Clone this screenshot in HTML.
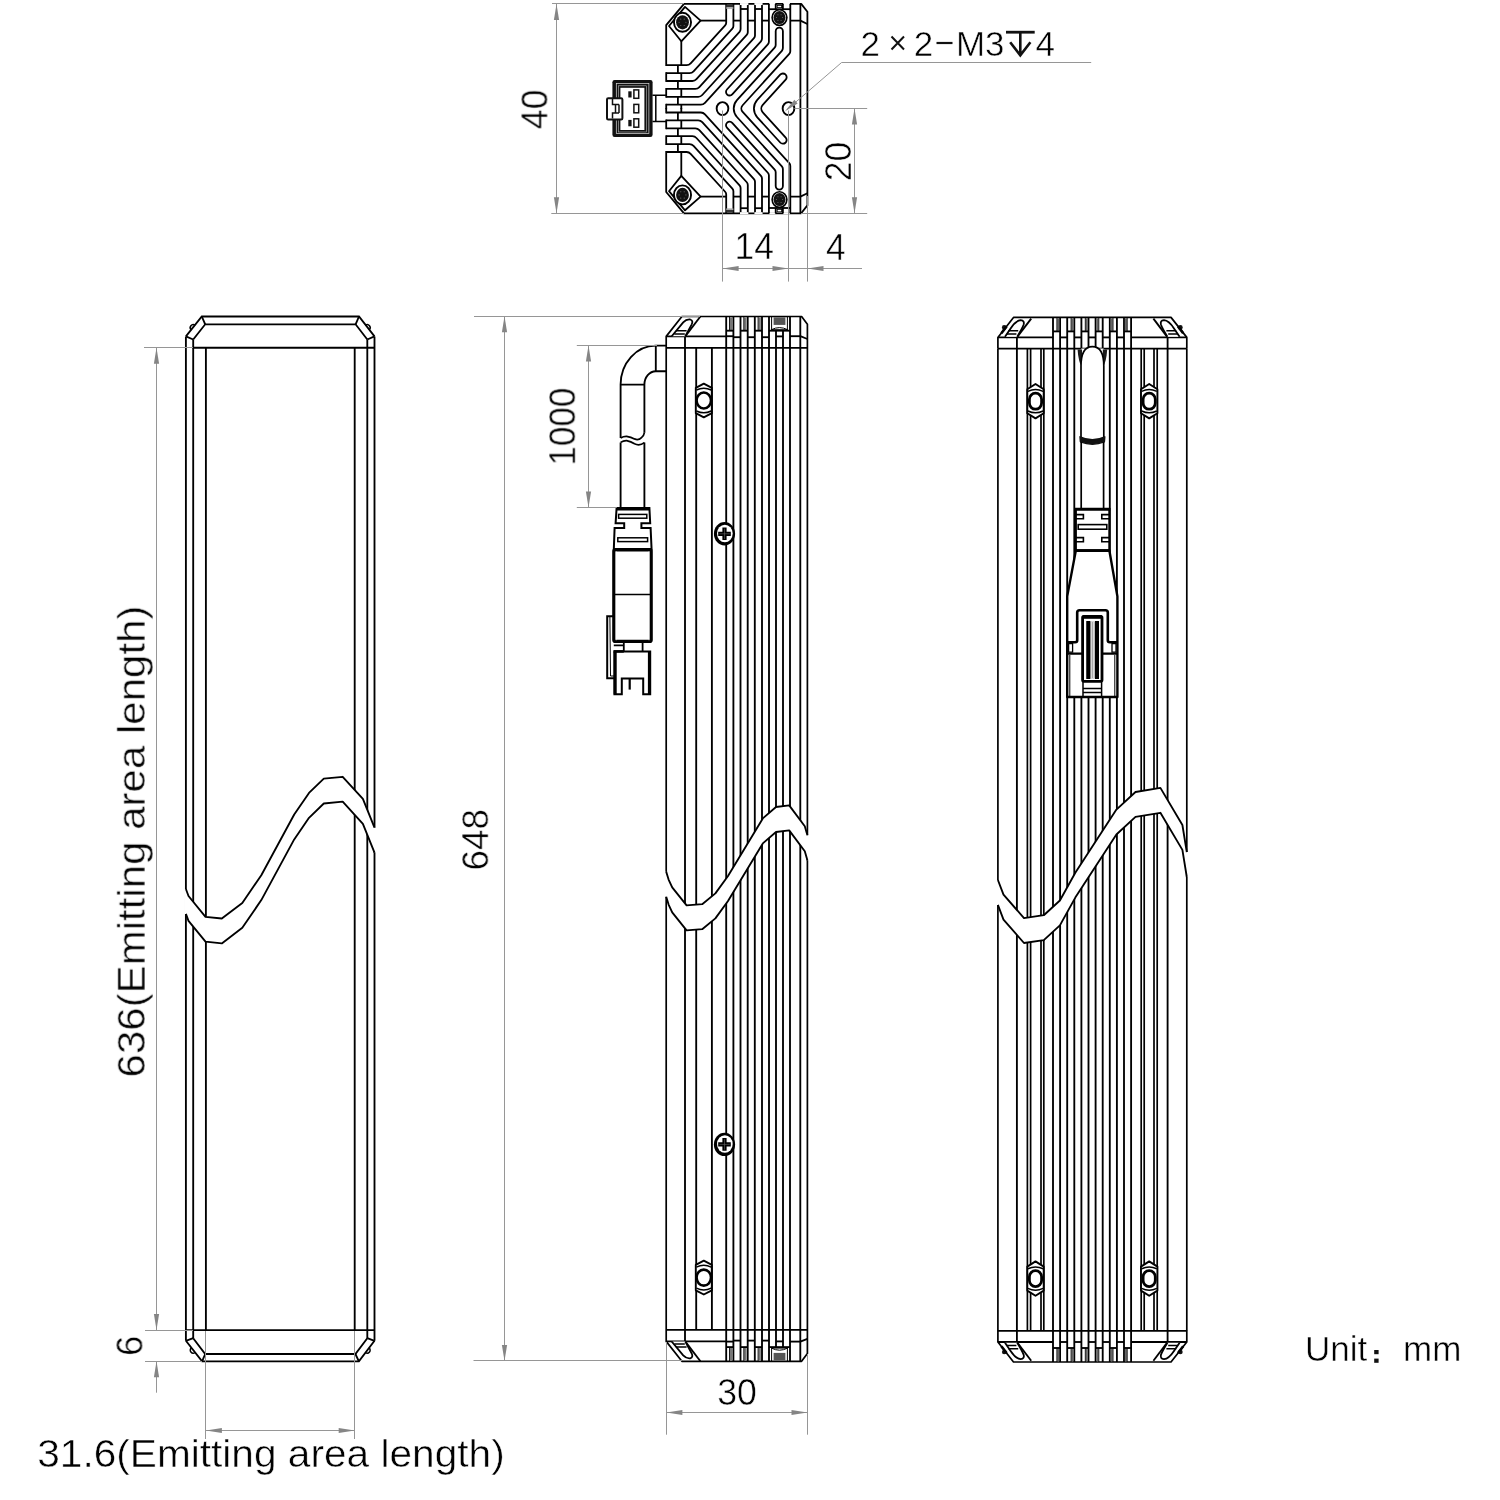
<!DOCTYPE html>
<html><head><meta charset="utf-8"><title>Dimension drawing</title>
<style>
html,body{margin:0;padding:0;background:#fff;}
body{width:1500px;height:1500px;overflow:hidden;font-family:"Liberation Sans",sans-serif;}
svg{display:block;}
text{font-family:"Liberation Sans",sans-serif;fill:#000;stroke:#fff;stroke-width:0.5px;}
</style></head><body>
<svg width="1500" height="1500" viewBox="0 0 1500 1500" stroke-linecap="butt">
<rect width="1500" height="1500" fill="#fff"/>
<g id="left">
<path d="M185.9,336.4 L185.9,1340.8" stroke="#000" stroke-width="1.85" fill="none"/>
<path d="M193.2,339.5 L193.2,1338.2" stroke="#000" stroke-width="1.85" fill="none"/>
<path d="M205.9,347.7 L205.9,1330.1" stroke="#000" stroke-width="1.85" fill="none"/>
<path d="M354.7,347.7 L354.7,1330.1" stroke="#000" stroke-width="1.85" fill="none"/>
<path d="M367.3,339.5 L367.3,1338.2" stroke="#000" stroke-width="1.85" fill="none"/>
<path d="M374.5,336.4 L374.5,1340.8" stroke="#000" stroke-width="1.85" fill="none"/>
<path d="M185.9,336.4 L201.8,316.5 L359,316.5 L374.5,336.4" fill="none" stroke="#000" stroke-width="1.85" />
<path d="M193.2,339.5 L205.2,324.3 L355.6,324.3 L367.3,339.5" fill="none" stroke="#000" stroke-width="1.85" />
<path d="M185.9,336.4 L193.2,339.5" stroke="#000" stroke-width="1.85" fill="none"/>
<path d="M374.5,336.4 L367.3,339.5" stroke="#000" stroke-width="1.85" fill="none"/>
<path d="M201.8,316.5 L205.2,324.3" stroke="#000" stroke-width="1.85" fill="none"/>
<path d="M359,316.5 L355.6,324.3" stroke="#000" stroke-width="1.85" fill="none"/>
<path d="M192.4,347.7 L374.5,347.7" stroke="#000" stroke-width="1.85" fill="none"/>
<path d="M191.4,1347.8 A2.9,2.9 0 0 0 195.1,1352.5" fill="none" stroke="#000" stroke-width="1.5"/>
<path d="M191.4,330 A2.9,2.9 0 0 1 195.1,325.3" fill="none" stroke="#000" stroke-width="1.5"/>
<path d="M369,1347.8 A2.9,2.9 0 0 1 365.3,1352.5" fill="none" stroke="#000" stroke-width="1.5"/>
<path d="M369,330 A2.9,2.9 0 0 0 365.3,325.3" fill="none" stroke="#000" stroke-width="1.5"/>
<path d="M185.9,1340.8 L202.1,1361.3 L358.9,1361.3 L374.5,1340.8" fill="none" stroke="#000" stroke-width="1.85" />
<path d="M193.2,1338.2 L205.2,1354 L355.4,1354 L367.3,1338.2" fill="none" stroke="#000" stroke-width="1.85" />
<path d="M185.9,1340.8 L193.2,1338.2" stroke="#000" stroke-width="1.85" fill="none"/>
<path d="M374.5,1340.8 L367.3,1338.2" stroke="#000" stroke-width="1.85" fill="none"/>
<path d="M202.1,1361.3 L205.2,1354" stroke="#000" stroke-width="1.85" fill="none"/>
<path d="M358.9,1361.3 L355.4,1354" stroke="#000" stroke-width="1.85" fill="none"/>
<path d="M185.9,1330.1 L374.5,1330.1" stroke="#000" stroke-width="1.85" fill="none"/>
<rect x="180" y="800" width="12" height="50" fill="#fff" opacity="0"/>
<path d="M184.3,889 L185.9,889 L188.5,896 L205.5,916.8 L221.8,918.5 L242.3,902.9 L261.3,875.2 L294.2,814.5 L309,792.9 L323.8,778.6 L342.7,776.8 L362.9,798.9 L374.5,827.7 L376.1,827.7 L376.1,852.6 L374.5,852.6 L362.9,823.8 L342.7,801.7 L323.8,803.5 L309,817.8 L294.2,839.4 L261.3,900.1 L242.3,927.8 L221.8,943.4 L205.5,941.7 L188.5,920.9 L185.9,913.9 L184.3,913.9 Z" fill="#fff" stroke="none"/>
<path d="M185.9,889 L188.5,896 L205.5,916.8 L221.8,918.5 L242.3,902.9 L261.3,875.2 L294.2,814.5 L309,792.9 L323.8,778.6 L342.7,776.8 L362.9,798.9 L374.5,827.7" fill="none" stroke="#000" stroke-width="1.85" stroke-linejoin="round"/>
<path d="M185.9,913.9 L188.5,920.9 L205.5,941.7 L221.8,943.4 L242.3,927.8 L261.3,900.1 L294.2,839.4 L309,817.8 L323.8,803.5 L342.7,801.7 L362.9,823.8 L374.5,852.6" fill="none" stroke="#000" stroke-width="1.85" stroke-linejoin="round"/>
</g>
<g id="topview">
<g><path d="M666.2,66.1 L666.2,25.2 L684,3.9 L801.2,3.9 L807.4,11.8 L807.4,109.1" fill="none" stroke="#000" stroke-width="1.8" stroke-linejoin="round"/>
<path d="M800.4,3.9 L800.4,109.1" fill="none" stroke="#000" stroke-width="1.8" stroke-linejoin="round"/>
<path d="M790.3,20.6 L800.4,20.6 L807.4,24" fill="none" stroke="#000" stroke-width="1.8" stroke-linejoin="round"/>
<path d="M685,6.9 L700.6,20.6 L681.3,41.3 L669,26 Z" fill="none" stroke="#000" stroke-width="1.8" stroke-linejoin="round"/>
<path d="M700.5,20.6 L726.2,20.6" fill="none" stroke="#000" stroke-width="1.8" stroke-linejoin="round"/>
<path d="M681.3,41.1 L681.3,65.2" fill="none" stroke="#000" stroke-width="1.8" stroke-linejoin="round"/>
<ellipse cx="682.5" cy="22.3" rx="8.55" ry="9.5" fill="#fff" stroke="#000" stroke-width="1.9"/>
<ellipse cx="682.5" cy="22.3" rx="6.4" ry="7.1" fill="#111"/>
<circle cx="685.9" cy="22.3" r="0.55" fill="#777"/>
<circle cx="684.2" cy="25.5" r="0.55" fill="#777"/>
<circle cx="680.8" cy="25.5" r="0.55" fill="#777"/>
<circle cx="679.1" cy="22.3" r="0.55" fill="#777"/>
<circle cx="680.8" cy="19.1" r="0.55" fill="#777"/>
<circle cx="684.2" cy="19.1" r="0.55" fill="#777"/>
<path d="M666.2,65.2 L686.59,65.2 A5.5,5.5 0 0 0 690.65,63.4 L725.16,25.44 A4,4 0 0 0 726.2,22.75 L726.2,3.9" fill="none" stroke="#000" stroke-width="1.8" stroke-linejoin="round"/>
<path d="M666.2,73.1 L689.49,73.1 A5.5,5.5 0 0 0 693.55,71.3 L732.36,28.61 A4,4 0 0 0 733.4,25.92 L733.4,3.9" fill="none" stroke="#000" stroke-width="1.8" stroke-linejoin="round"/>
<path d="M666.2,81 L692.39,81 A5.5,5.5 0 0 0 696.45,79.2 L739.56,31.78 A4,4 0 0 0 740.6,29.09 L740.6,3.9" fill="none" stroke="#000" stroke-width="1.8" stroke-linejoin="round"/>
<path d="M666.2,88.9 L695.29,88.9 A5.5,5.5 0 0 0 699.35,87.1 L746.76,34.95 A4,4 0 0 0 747.8,32.26 L747.8,3.9" fill="none" stroke="#000" stroke-width="1.8" stroke-linejoin="round"/>
<path d="M666.2,96.8 L698.19,96.8 A5.5,5.5 0 0 0 702.25,95 L753.96,38.12 A4,4 0 0 0 755,35.43 L755,3.9" fill="none" stroke="#000" stroke-width="1.8" stroke-linejoin="round"/>
<path d="M666.2,104.7 L700.89,104.7 A5.5,5.5 0 0 0 704.95,102.9 L760.96,41.29 A4,4 0 0 0 762,38.6 L762,3.9" fill="none" stroke="#000" stroke-width="1.8" stroke-linejoin="round"/>
<path d="M733.4,20.6 L740.6,20.6" fill="none" stroke="#000" stroke-width="1.8" stroke-linejoin="round"/>
<path d="M747.8,20.6 L755,20.6" fill="none" stroke="#000" stroke-width="1.8" stroke-linejoin="round"/>
<path d="M762,20.6 L768.9,20.6" fill="none" stroke="#000" stroke-width="1.8" stroke-linejoin="round"/>
<path d="M740.6,9 L747.8,9" fill="none" stroke="#000" stroke-width="1.8" stroke-linejoin="round"/>
<rect x="740" y="3.05" width="8.4" height="2" fill="#fff"/>
<path d="M755,9 L762,9" fill="none" stroke="#000" stroke-width="1.8" stroke-linejoin="round"/>
<rect x="754.4" y="3.05" width="8.2" height="2" fill="#fff"/>
<path d="M768.9,9.2 L790.3,9.2" fill="none" stroke="#000" stroke-width="1.8" stroke-linejoin="round"/>
<rect x="769.3" y="3" width="6" height="2" fill="#fff"/>
<rect x="783.3" y="3" width="6.6" height="2" fill="#fff"/>
<rect x="726.2" y="4.6" width="7.2" height="2.6" fill="#333"/>
<rect x="726.2" y="7.2" width="7.2" height="1.6" fill="#aaa"/>
<path d="M775.7,3.9 L775.7,9.2" fill="none" stroke="#000" stroke-width="1.8" stroke-linejoin="round"/>
<path d="M782.9,3.9 L782.9,9.2" fill="none" stroke="#000" stroke-width="1.8" stroke-linejoin="round"/>
<rect x="777.2" y="5.4" width="4.4" height="2.2" fill="#fff" stroke="#000" stroke-width="0.8"/>
<ellipse cx="779.5" cy="17.6" rx="7.4" ry="7.8" fill="#fff" stroke="#000" stroke-width="1.6"/>
<ellipse cx="779.5" cy="17.6" rx="6.0" ry="6.5" fill="#111"/>
<circle cx="782.6" cy="17.6" r="0.5" fill="#777"/>
<circle cx="781.05" cy="20.46" r="0.5" fill="#777"/>
<circle cx="777.95" cy="20.46" r="0.5" fill="#777"/>
<circle cx="776.4" cy="17.6" r="0.5" fill="#777"/>
<circle cx="777.95" cy="14.74" r="0.5" fill="#777"/>
<circle cx="781.05" cy="14.74" r="0.5" fill="#777"/>
<path d="M666.2,72.2 L666.2,81.9" fill="none" stroke="#000" stroke-width="1.8" stroke-linejoin="round"/>
<path d="M681.3,73.1 L681.3,81" fill="none" stroke="#000" stroke-width="1.8" stroke-linejoin="round"/>
<path d="M666.2,88 L666.2,97.7" fill="none" stroke="#000" stroke-width="1.8" stroke-linejoin="round"/>
<path d="M681.3,88.9 L681.3,96.8" fill="none" stroke="#000" stroke-width="1.8" stroke-linejoin="round"/>
<path d="M666.2,103.8 L666.2,109.1" fill="none" stroke="#000" stroke-width="1.8" stroke-linejoin="round"/>
<path d="M681.3,104.7 L681.3,109.1" fill="none" stroke="#000" stroke-width="1.8" stroke-linejoin="round"/>
<path d="M677.9,65.2 L677.9,73.1" fill="none" stroke="#000" stroke-width="1.8" stroke-linejoin="round"/>
<path d="M677.9,81 L677.9,88.9" fill="none" stroke="#000" stroke-width="1.8" stroke-linejoin="round"/>
<path d="M677.9,96.8 L677.9,104.7" fill="none" stroke="#000" stroke-width="1.8" stroke-linejoin="round"/></g>
<g transform="translate(0,217.2) scale(1,-1)"><path d="M666.2,66.1 L666.2,25.2 L684,3.9 L801.2,3.9 L807.4,11.8 L807.4,109.1" fill="none" stroke="#000" stroke-width="1.8" stroke-linejoin="round"/>
<path d="M800.4,3.9 L800.4,109.1" fill="none" stroke="#000" stroke-width="1.8" stroke-linejoin="round"/>
<path d="M790.3,20.6 L800.4,20.6 L807.4,24" fill="none" stroke="#000" stroke-width="1.8" stroke-linejoin="round"/>
<path d="M685,6.9 L700.6,20.6 L681.3,41.3 L669,26 Z" fill="none" stroke="#000" stroke-width="1.8" stroke-linejoin="round"/>
<path d="M700.5,20.6 L726.2,20.6" fill="none" stroke="#000" stroke-width="1.8" stroke-linejoin="round"/>
<path d="M681.3,41.1 L681.3,65.2" fill="none" stroke="#000" stroke-width="1.8" stroke-linejoin="round"/>
<ellipse cx="682.5" cy="22.3" rx="8.55" ry="9.5" fill="#fff" stroke="#000" stroke-width="1.9"/>
<ellipse cx="682.5" cy="22.3" rx="6.4" ry="7.1" fill="#111"/>
<circle cx="685.9" cy="22.3" r="0.55" fill="#777"/>
<circle cx="684.2" cy="25.5" r="0.55" fill="#777"/>
<circle cx="680.8" cy="25.5" r="0.55" fill="#777"/>
<circle cx="679.1" cy="22.3" r="0.55" fill="#777"/>
<circle cx="680.8" cy="19.1" r="0.55" fill="#777"/>
<circle cx="684.2" cy="19.1" r="0.55" fill="#777"/>
<path d="M666.2,65.2 L686.59,65.2 A5.5,5.5 0 0 0 690.65,63.4 L725.16,25.44 A4,4 0 0 0 726.2,22.75 L726.2,3.9" fill="none" stroke="#000" stroke-width="1.8" stroke-linejoin="round"/>
<path d="M666.2,73.1 L689.49,73.1 A5.5,5.5 0 0 0 693.55,71.3 L732.36,28.61 A4,4 0 0 0 733.4,25.92 L733.4,3.9" fill="none" stroke="#000" stroke-width="1.8" stroke-linejoin="round"/>
<path d="M666.2,81 L692.39,81 A5.5,5.5 0 0 0 696.45,79.2 L739.56,31.78 A4,4 0 0 0 740.6,29.09 L740.6,3.9" fill="none" stroke="#000" stroke-width="1.8" stroke-linejoin="round"/>
<path d="M666.2,88.9 L695.29,88.9 A5.5,5.5 0 0 0 699.35,87.1 L746.76,34.95 A4,4 0 0 0 747.8,32.26 L747.8,3.9" fill="none" stroke="#000" stroke-width="1.8" stroke-linejoin="round"/>
<path d="M666.2,96.8 L698.19,96.8 A5.5,5.5 0 0 0 702.25,95 L753.96,38.12 A4,4 0 0 0 755,35.43 L755,3.9" fill="none" stroke="#000" stroke-width="1.8" stroke-linejoin="round"/>
<path d="M666.2,104.7 L700.89,104.7 A5.5,5.5 0 0 0 704.95,102.9 L760.96,41.29 A4,4 0 0 0 762,38.6 L762,3.9" fill="none" stroke="#000" stroke-width="1.8" stroke-linejoin="round"/>
<path d="M733.4,20.6 L740.6,20.6" fill="none" stroke="#000" stroke-width="1.8" stroke-linejoin="round"/>
<path d="M747.8,20.6 L755,20.6" fill="none" stroke="#000" stroke-width="1.8" stroke-linejoin="round"/>
<path d="M762,20.6 L768.9,20.6" fill="none" stroke="#000" stroke-width="1.8" stroke-linejoin="round"/>
<path d="M740.6,9 L747.8,9" fill="none" stroke="#000" stroke-width="1.8" stroke-linejoin="round"/>
<rect x="740" y="3.05" width="8.4" height="2" fill="#fff"/>
<path d="M755,9 L762,9" fill="none" stroke="#000" stroke-width="1.8" stroke-linejoin="round"/>
<rect x="754.4" y="3.05" width="8.2" height="2" fill="#fff"/>
<path d="M768.9,9.2 L790.3,9.2" fill="none" stroke="#000" stroke-width="1.8" stroke-linejoin="round"/>
<rect x="769.3" y="3" width="6" height="2" fill="#fff"/>
<rect x="783.3" y="3" width="6.6" height="2" fill="#fff"/>
<rect x="726.2" y="4.6" width="7.2" height="2.6" fill="#333"/>
<rect x="726.2" y="7.2" width="7.2" height="1.6" fill="#aaa"/>
<path d="M775.7,3.9 L775.7,9.2" fill="none" stroke="#000" stroke-width="1.8" stroke-linejoin="round"/>
<path d="M782.9,3.9 L782.9,9.2" fill="none" stroke="#000" stroke-width="1.8" stroke-linejoin="round"/>
<rect x="777.2" y="5.4" width="4.4" height="2.2" fill="#fff" stroke="#000" stroke-width="0.8"/>
<ellipse cx="779.5" cy="17.6" rx="7.4" ry="7.8" fill="#fff" stroke="#000" stroke-width="1.6"/>
<ellipse cx="779.5" cy="17.6" rx="6.0" ry="6.5" fill="#111"/>
<circle cx="782.6" cy="17.6" r="0.5" fill="#777"/>
<circle cx="781.05" cy="20.46" r="0.5" fill="#777"/>
<circle cx="777.95" cy="20.46" r="0.5" fill="#777"/>
<circle cx="776.4" cy="17.6" r="0.5" fill="#777"/>
<circle cx="777.95" cy="14.74" r="0.5" fill="#777"/>
<circle cx="781.05" cy="14.74" r="0.5" fill="#777"/>
<path d="M666.2,72.2 L666.2,81.9" fill="none" stroke="#000" stroke-width="1.8" stroke-linejoin="round"/>
<path d="M681.3,73.1 L681.3,81" fill="none" stroke="#000" stroke-width="1.8" stroke-linejoin="round"/>
<path d="M666.2,88 L666.2,97.7" fill="none" stroke="#000" stroke-width="1.8" stroke-linejoin="round"/>
<path d="M681.3,88.9 L681.3,96.8" fill="none" stroke="#000" stroke-width="1.8" stroke-linejoin="round"/>
<path d="M666.2,103.8 L666.2,109.1" fill="none" stroke="#000" stroke-width="1.8" stroke-linejoin="round"/>
<path d="M681.3,104.7 L681.3,109.1" fill="none" stroke="#000" stroke-width="1.8" stroke-linejoin="round"/>
<path d="M677.9,65.2 L677.9,73.1" fill="none" stroke="#000" stroke-width="1.8" stroke-linejoin="round"/>
<path d="M677.9,81 L677.9,88.9" fill="none" stroke="#000" stroke-width="1.8" stroke-linejoin="round"/>
<path d="M677.9,96.8 L677.9,104.7" fill="none" stroke="#000" stroke-width="1.8" stroke-linejoin="round"/></g>
<path d="M768.9,3.9 L768.9,41.77 A4,4 0 0 1 767.86,44.46 L726.92,89.5 A3.58,3.58 0 0 0 727.16,94.56 L727.16,94.56 A3.58,3.58 0 0 0 732.22,94.32 L774.66,47.63 A4,4 0 0 0 775.7,44.94 L775.7,31.2 A3.6,3.6 0 0 1 779.3,27.6 L779.3,27.6 A3.6,3.6 0 0 1 782.9,31.2 L782.9,48.11 A4,4 0 0 1 781.86,50.8 L736.96,100.19 A12.5,12.5 0 0 0 736.96,117.01 L781.86,166.4 A4,4 0 0 1 782.9,169.09 L782.9,186 A3.6,3.6 0 0 1 779.3,189.6 L779.3,189.6 A3.6,3.6 0 0 1 775.7,186 L775.7,172.26 A4,4 0 0 0 774.66,169.57 L732.22,122.88 A3.58,3.58 0 0 0 727.16,122.64 L727.16,122.64 A3.58,3.58 0 0 0 726.92,127.7 L767.86,172.74 A4,4 0 0 1 768.9,175.43 L768.9,213.3" fill="none" stroke="#000" stroke-width="1.8" stroke-linejoin="round"/>
<path d="M790.3,3.9 L790.3,51.28 A4,4 0 0 1 789.26,53.97 L742.66,105.24 A5,5 0 0 0 742.66,111.96 L789.26,163.23 A4,4 0 0 1 790.3,165.92 L790.3,213.3" fill="none" stroke="#000" stroke-width="1.8" stroke-linejoin="round"/>
<path d="M757.27,117.28 A12.9,12.9 0 0 1 757.27,99.92 L780.2,74.7 A3.7,3.7 0 0 1 785.43,74.45 L785.43,74.45 A3.7,3.7 0 0 1 785.68,79.68 L762.75,104.9 A5.5,5.5 0 0 0 762.75,112.3 L785.68,137.52 A3.7,3.7 0 0 1 785.43,142.75 L785.43,142.75 A3.7,3.7 0 0 1 780.2,142.5 Z" fill="none" stroke="#000" stroke-width="1.8" stroke-linejoin="round"/>
<ellipse cx="722.5" cy="108.6" rx="5.85" ry="6.5" fill="none" stroke="#000" stroke-width="1.9"/>
<ellipse cx="788.5" cy="108.6" rx="5.85" ry="6.5" fill="none" stroke="#000" stroke-width="1.9"/>
<path d="M652.4,95.3 H666.2 M652.4,121.6 H666.2 M655.8,95.3 V121.6" stroke="#000" stroke-width="1.5" fill="none"/>
<rect x="612.4" y="80.0" width="40.2" height="57.0" rx="2.2" fill="#111"/>
<rect x="616.3" y="83.6" width="32.6" height="49.8" fill="none" stroke="#ddd" stroke-width="0.7"/>
<rect x="620.4" y="87.8" width="24.0" height="42.2" fill="#fff"/>
<rect x="618.4" y="85.8" width="28.0" height="46.2" fill="none" stroke="#bbb" stroke-width="0.6"/>
<rect x="633.9" y="89.9" width="4.8" height="8.4" fill="#fff" stroke="#111" stroke-width="1.5"/>
<rect x="633.9" y="104.4" width="4.8" height="8.4" fill="#fff" stroke="#111" stroke-width="1.5"/>
<rect x="633.9" y="118.8" width="4.8" height="8.4" fill="#fff" stroke="#111" stroke-width="1.5"/>
<rect x="628.3" y="91.3" width="3.3" height="6.2" fill="#111"/><rect x="628.3" y="119.9" width="3.3" height="6.4" fill="#111"/>
<rect x="607.0" y="98.2" width="15.4" height="21.2" rx="1.2" fill="#fff" stroke="#111" stroke-width="2.0"/>
<path d="M612.5,99 V104.5 H619 M612.5,118.6 V113 H619 M619,104.5 V113 M615.5,104.5 V113" stroke="#111" stroke-width="1.5" fill="none"/>
</g>
<g id="midview">
<path d="M666.2,347.9 L666.2,1329.9" stroke="#000" stroke-width="1.7" fill="none"/>
<path d="M685,347.9 L685,1329.9" stroke="#000" stroke-width="1.85" fill="none"/>
<path d="M696.2,347.9 L696.2,1329.9" stroke="#000" stroke-width="1.85" fill="none"/>
<path d="M711.9,347.9 L711.9,1329.9" stroke="#000" stroke-width="1.85" fill="none"/>
<path d="M726.2,347.9 L726.2,1329.9" stroke="#000" stroke-width="1.85" fill="none"/>
<path d="M733.4,347.9 L733.4,1329.9" stroke="#000" stroke-width="1.85" fill="none"/>
<path d="M740.5,347.9 L740.5,1329.9" stroke="#000" stroke-width="1.85" fill="none"/>
<path d="M747.7,347.9 L747.7,1329.9" stroke="#000" stroke-width="1.85" fill="none"/>
<path d="M754.8,347.9 L754.8,1329.9" stroke="#000" stroke-width="1.85" fill="none"/>
<path d="M762,347.9 L762,1329.9" stroke="#000" stroke-width="1.85" fill="none"/>
<path d="M769,347.9 L769,1329.9" stroke="#000" stroke-width="1.85" fill="none"/>
<path d="M776,347.9 L776,1329.9" stroke="#000" stroke-width="1.85" fill="none"/>
<path d="M783,347.9 L783,1329.9" stroke="#000" stroke-width="1.85" fill="none"/>
<path d="M790,347.9 L790,1329.9" stroke="#000" stroke-width="1.85" fill="none"/>
<path d="M800.3,347.9 L800.3,1329.9" stroke="#000" stroke-width="1.85" fill="none"/>
<path d="M807.4,347.9 L807.4,1329.9" stroke="#000" stroke-width="1.7" fill="none"/>
<g><path d="M666.2,347.9 L666.2,336.4 L681.9,316.5 L801.6,316.5 L807.4,324.3 L807.4,347.9" stroke="#000" stroke-width="1.7" fill="none" stroke-linejoin="round"/>
<path d="M700.4,316.5 L685.2,336.4" stroke="#000" stroke-width="1.85" fill="none" stroke-linejoin="round"/>
<path d="M666.2,336.4 L726.2,336.4" stroke="#000" stroke-width="1.85" fill="none"/>
<path d="M666.2,347.9 L807.4,347.9" stroke="#000" stroke-width="1.85" fill="none"/>
<path d="M685,336.4 L685,347.9" stroke="#000" stroke-width="1.85" fill="none"/>
<path d="M671.7,336.3 L683.2,322.4 Q686.4,319.0 690.2,319.5 Q693.6,320.4 691.6,324.6 L685.3,336.3" fill="#fff" stroke="#000" stroke-width="1.8" stroke-linejoin="round"/>
<path d="M675.9,330.7 H686.6 M674.3,333.9 H684.8" stroke="#000" stroke-width="1.5" fill="none"/>
<path d="M726.2,316.5 L726.2,347.9" stroke="#000" stroke-width="1.85" fill="none"/>
<path d="M733.4,316.5 L733.4,347.9" stroke="#000" stroke-width="1.85" fill="none"/>
<path d="M740.5,316.5 L740.5,347.9" stroke="#000" stroke-width="1.85" fill="none"/>
<path d="M747.7,316.5 L747.7,347.9" stroke="#000" stroke-width="1.85" fill="none"/>
<path d="M754.8,316.5 L754.8,347.9" stroke="#000" stroke-width="1.85" fill="none"/>
<path d="M762,316.5 L762,347.9" stroke="#000" stroke-width="1.85" fill="none"/>
<path d="M769,316.5 L769,347.9" stroke="#000" stroke-width="1.85" fill="none"/>
<path d="M790,316.5 L790,347.9" stroke="#000" stroke-width="1.85" fill="none"/>
<path d="M800.3,316.5 L800.3,347.9" stroke="#000" stroke-width="1.85" fill="none"/>
<path d="M776,330.7 L776,347.9" stroke="#000" stroke-width="1.85" fill="none"/>
<path d="M783,330.7 L783,347.9" stroke="#000" stroke-width="1.85" fill="none"/>
<rect x="729.8" y="317.3" width="2.4" height="13" fill="#777"/>
<path d="M729.5,316.5 L729.5,330.7" stroke="#000" stroke-width="0.9" fill="none"/>
<path d="M726.2,330.7 L733.4,330.7" stroke="#000" stroke-width="1.85" fill="none"/>
<rect x="744.1" y="317.3" width="2.4" height="13" fill="#777"/>
<path d="M743.8,316.5 L743.8,330.7" stroke="#000" stroke-width="0.9" fill="none"/>
<path d="M740.5,330.7 L747.7,330.7" stroke="#000" stroke-width="1.85" fill="none"/>
<rect x="758.4" y="317.3" width="2.4" height="13" fill="#777"/>
<path d="M758.1,316.5 L758.1,330.7" stroke="#000" stroke-width="0.9" fill="none"/>
<path d="M754.8,330.7 L762,330.7" stroke="#000" stroke-width="1.85" fill="none"/>
<path d="M769,330.7 L790,330.7" stroke="#000" stroke-width="1.85" fill="none"/>
<path d="M726.2,336.2 L733.4,336.2" stroke="#000" stroke-width="1.85" fill="none"/>
<path d="M733.4,337.2 L740.5,337.2" stroke="#000" stroke-width="1.85" fill="none"/>
<path d="M747.7,337.2 L754.8,337.2" stroke="#000" stroke-width="1.85" fill="none"/>
<path d="M762,337.2 L769,337.2" stroke="#000" stroke-width="1.85" fill="none"/>
<path d="M776,336.4 L783,336.4" stroke="#000" stroke-width="1.85" fill="none"/>
<path d="M790,336.2 L800.3,336.2" stroke="#000" stroke-width="1.85" fill="none"/>
<path d="M800.3,336.2 L807.4,339" stroke="#000" stroke-width="1.85" fill="none" stroke-linejoin="round"/>
<rect x="773.6" y="317.3" width="11.8" height="7.6" fill="#555"/>
<path d="M771.4,329.7 Q779.5,325.5 787.6,329.7 Z" fill="#fff" stroke="#000" stroke-width="1"/>
<path d="M771.6,316.5 L771.6,330.7" stroke="#000" stroke-width="1.0" fill="none"/>
<path d="M787.4,316.5 L787.4,330.7" stroke="#000" stroke-width="1.0" fill="none"/></g>
<g transform="translate(0,1677.8) scale(1,-1)"><path d="M666.2,347.9 L666.2,336.4 L681.9,316.5 L801.6,316.5 L807.4,324.3 L807.4,347.9" stroke="#000" stroke-width="1.7" fill="none" stroke-linejoin="round"/>
<path d="M700.4,316.5 L685.2,336.4" stroke="#000" stroke-width="1.85" fill="none" stroke-linejoin="round"/>
<path d="M666.2,336.4 L726.2,336.4" stroke="#000" stroke-width="1.85" fill="none"/>
<path d="M666.2,347.9 L807.4,347.9" stroke="#000" stroke-width="1.85" fill="none"/>
<path d="M685,336.4 L685,347.9" stroke="#000" stroke-width="1.85" fill="none"/>
<path d="M671.7,336.3 L683.2,322.4 Q686.4,319.0 690.2,319.5 Q693.6,320.4 691.6,324.6 L685.3,336.3" fill="#fff" stroke="#000" stroke-width="1.8" stroke-linejoin="round"/>
<path d="M675.9,330.7 H686.6 M674.3,333.9 H684.8" stroke="#000" stroke-width="1.5" fill="none"/>
<path d="M726.2,316.5 L726.2,347.9" stroke="#000" stroke-width="1.85" fill="none"/>
<path d="M733.4,316.5 L733.4,347.9" stroke="#000" stroke-width="1.85" fill="none"/>
<path d="M740.5,316.5 L740.5,347.9" stroke="#000" stroke-width="1.85" fill="none"/>
<path d="M747.7,316.5 L747.7,347.9" stroke="#000" stroke-width="1.85" fill="none"/>
<path d="M754.8,316.5 L754.8,347.9" stroke="#000" stroke-width="1.85" fill="none"/>
<path d="M762,316.5 L762,347.9" stroke="#000" stroke-width="1.85" fill="none"/>
<path d="M769,316.5 L769,347.9" stroke="#000" stroke-width="1.85" fill="none"/>
<path d="M790,316.5 L790,347.9" stroke="#000" stroke-width="1.85" fill="none"/>
<path d="M800.3,316.5 L800.3,347.9" stroke="#000" stroke-width="1.85" fill="none"/>
<path d="M776,330.7 L776,347.9" stroke="#000" stroke-width="1.85" fill="none"/>
<path d="M783,330.7 L783,347.9" stroke="#000" stroke-width="1.85" fill="none"/>
<rect x="729.8" y="317.3" width="2.4" height="13" fill="#777"/>
<path d="M729.5,316.5 L729.5,330.7" stroke="#000" stroke-width="0.9" fill="none"/>
<path d="M726.2,330.7 L733.4,330.7" stroke="#000" stroke-width="1.85" fill="none"/>
<rect x="744.1" y="317.3" width="2.4" height="13" fill="#777"/>
<path d="M743.8,316.5 L743.8,330.7" stroke="#000" stroke-width="0.9" fill="none"/>
<path d="M740.5,330.7 L747.7,330.7" stroke="#000" stroke-width="1.85" fill="none"/>
<rect x="758.4" y="317.3" width="2.4" height="13" fill="#777"/>
<path d="M758.1,316.5 L758.1,330.7" stroke="#000" stroke-width="0.9" fill="none"/>
<path d="M754.8,330.7 L762,330.7" stroke="#000" stroke-width="1.85" fill="none"/>
<path d="M769,330.7 L790,330.7" stroke="#000" stroke-width="1.85" fill="none"/>
<path d="M726.2,336.2 L733.4,336.2" stroke="#000" stroke-width="1.85" fill="none"/>
<path d="M733.4,337.2 L740.5,337.2" stroke="#000" stroke-width="1.85" fill="none"/>
<path d="M747.7,337.2 L754.8,337.2" stroke="#000" stroke-width="1.85" fill="none"/>
<path d="M762,337.2 L769,337.2" stroke="#000" stroke-width="1.85" fill="none"/>
<path d="M776,336.4 L783,336.4" stroke="#000" stroke-width="1.85" fill="none"/>
<path d="M790,336.2 L800.3,336.2" stroke="#000" stroke-width="1.85" fill="none"/>
<path d="M800.3,336.2 L807.4,339" stroke="#000" stroke-width="1.85" fill="none" stroke-linejoin="round"/>
<rect x="773.6" y="317.3" width="11.8" height="7.6" fill="#555"/>
<path d="M771.4,329.7 Q779.5,325.5 787.6,329.7 Z" fill="#fff" stroke="#000" stroke-width="1"/>
<path d="M771.6,316.5 L771.6,330.7" stroke="#000" stroke-width="1.0" fill="none"/>
<path d="M787.4,316.5 L787.4,330.7" stroke="#000" stroke-width="1.0" fill="none"/></g>
<path d="M703.8,383.6 L711.8,387.8 L711.8,413.2 L703.8,417.4 L695.8,413.2 L695.8,387.8 Z" fill="#fff" stroke="#000" stroke-width="1.9" stroke-linejoin="round"/>
<path d="M696.4,390 Q703.8,386.4 711.2,390 M696.4,411 Q703.8,414.6 711.2,411" fill="none" stroke="#000" stroke-width="1.5"/>
<ellipse cx="703.8" cy="400.5" rx="7.2" ry="8" fill="#fff" stroke="#000" stroke-width="2.6"/>
<path d="M703.8,1260.7 L711.8,1264.9 L711.8,1290.3 L703.8,1294.5 L695.8,1290.3 L695.8,1264.9 Z" fill="#fff" stroke="#000" stroke-width="1.9" stroke-linejoin="round"/>
<path d="M696.4,1267.1 Q703.8,1263.5 711.2,1267.1 M696.4,1288.1 Q703.8,1291.7 711.2,1288.1" fill="none" stroke="#000" stroke-width="1.5"/>
<ellipse cx="703.8" cy="1277.6" rx="7.2" ry="8" fill="#fff" stroke="#000" stroke-width="2.6"/>
<ellipse cx="724.5" cy="533.8" rx="10.6" ry="11.7" fill="#000"/>
<ellipse cx="724.85" cy="533.45" rx="7.85" ry="8.8" fill="#fff"/>
<path d="M718.2,533.8 H730.8 M724.5,527.5 V540.1" stroke="#000" stroke-width="4.2" fill="none"/>
<path d="M719.3,533.8 H729.7 M724.5,528.6 V539" stroke="#666" stroke-width="0.6" fill="none"/>
<ellipse cx="724.5" cy="1144.4" rx="10.6" ry="11.7" fill="#000"/>
<ellipse cx="724.85" cy="1144.05" rx="7.85" ry="8.8" fill="#fff"/>
<path d="M718.2,1144.4 H730.8 M724.5,1138.1 V1150.7" stroke="#000" stroke-width="4.2" fill="none"/>
<path d="M719.3,1144.4 H729.7 M724.5,1139.2 V1149.6" stroke="#666" stroke-width="0.6" fill="none"/>
<path d="M664.6,871.8 L666.2,871.8 L668.6,879.6 L672.2,887.4 L686.6,905.4 L702.2,904.2 L715.4,893.4 L728,876 L762.8,818.4 L776,807 L789.2,805.4 L804.8,826.2 L807.4,835.2 L809,835.2 L809,860.2 L807.4,860.2 L804.8,851.2 L789.2,830.4 L776,832 L762.8,843.4 L728,901 L715.4,918.4 L702.2,929.2 L686.6,930.4 L672.2,912.4 L668.6,904.6 L666.2,896.8 L664.6,896.8 Z" fill="#fff" stroke="none"/>
<path d="M666.2,871.8 L668.6,879.6 L672.2,887.4 L686.6,905.4 L702.2,904.2 L715.4,893.4 L728,876 L762.8,818.4 L776,807 L789.2,805.4 L804.8,826.2 L807.4,835.2" fill="none" stroke="#000" stroke-width="1.85" stroke-linejoin="round"/>
<path d="M666.2,896.8 L668.6,904.6 L672.2,912.4 L686.6,930.4 L702.2,929.2 L715.4,918.4 L728,901 L762.8,843.4 L776,832 L789.2,830.4 L804.8,851.2 L807.4,860.2" fill="none" stroke="#000" stroke-width="1.85" stroke-linejoin="round"/>
<path d="M666.2,345.6 H655.8 A35.2,39 0 0 0 620.6,384.6 V437.9" fill="none" stroke="#000" stroke-width="1.85"/>
<path d="M666.2,371.2 H655.8 A11.4,13.4 0 0 0 644.4,384.6 V432.7" fill="none" stroke="#000" stroke-width="1.85"/>
<path d="M655.8,345.6 V371.2 M620.6,384.6 H644.4" fill="none" stroke="#000" stroke-width="1.85"/>
<path d="M620.6,437.9 Q623.5,436.2 626.6,436.3 Q631,437 634.5,438.9 Q638.5,440.6 641.5,437.6 Q644,435.6 644.4,432.7" fill="none" stroke="#000" stroke-width="1.7"/>
<path d="M620.6,442.4 Q623.5,440.6 626.6,440.7 Q631,441.6 634.5,443.8 Q639.5,446.4 644.4,442.6" fill="none" stroke="#000" stroke-width="1.7"/>
<path d="M620.6,442.4 V508 M644.4,442.6 V508" fill="none" stroke="#000" stroke-width="1.85"/>
<path d="M616.6,508 H649.4 L650.2,523.3 H641.4 V528.0 H650.6 L651.6,549.6 H613.8 L614.6,528.0 H624.2 V523.3 H615.6 Z" fill="#fff" stroke="#000" stroke-width="2.0" stroke-linejoin="miter"/>
<path d="M616.2,509.0 H649.8" stroke="#000" stroke-width="3.2" fill="none"/>
<rect x="618.6" y="514.4" width="28.2" height="3.8" fill="none" stroke="#000" stroke-width="1.5"/>
<rect x="617.8" y="537.8" width="29.8" height="3.8" fill="none" stroke="#000" stroke-width="1.5"/>
<rect x="613.8" y="549.8" width="37.4" height="91.6" rx="1.5" fill="#fff" stroke="#000" stroke-width="3.2"/>
<path d="M616.2,551 V640.4 M649.0,551 V640.4" stroke="#fff" stroke-width="0.5" fill="none"/>
<path d="M613.4,594.5 H651.6" stroke="#000" stroke-width="1.7" fill="none"/>
<path d="M613.0,549.6 H652.0" stroke="#000" stroke-width="3.0" fill="none"/>
<path d="M613.4,616.2 H607.2 V678.2 H614.0" fill="none" stroke="#000" stroke-width="2.0"/>
<path d="M609.9,617 L610.5,676.0 H614.0" fill="none" stroke="#000" stroke-width="1.0"/>
<path d="M623.8,641.6 V651.2 M642.6,641.6 V651.2 M613.8,645.4 H623.8" fill="none" stroke="#000" stroke-width="1.8"/>
<path d="M614.4,651.4 H650.2 V694.2 H643.2 V678.4 H621.8 V694.2 H614.4 Z" fill="#fff" stroke="#000" stroke-width="2.0"/>
<path d="M615.2,652 V694 M649.4,652 V694" stroke="#000" stroke-width="3.0" fill="none"/>
<path d="M629.7,678.4 V689.6" stroke="#000" stroke-width="2.2" fill="none"/>
<path d="M613.6,651.4 H623.8" stroke="#000" stroke-width="2.6" fill="none"/>
</g>
<g id="rightview">
<path d="M997.9,348.6 L997.9,1331" stroke="#000" stroke-width="1.7" fill="none"/>
<path d="M1016.9,348.6 L1016.9,1331" stroke="#000" stroke-width="1.85" fill="none"/>
<path d="M1167.6,348.6 L1167.6,1331" stroke="#000" stroke-width="1.85" fill="none"/>
<path d="M1186.8,348.6 L1186.8,1331" stroke="#000" stroke-width="1.7" fill="none"/>
<path d="M1027.4,348.6 L1027.4,1331" stroke="#000" stroke-width="1.7" fill="none"/>
<path d="M1030.6,348.6 L1030.6,1331" stroke="#000" stroke-width="1.7" fill="none"/>
<path d="M1041,348.6 L1041,1331" stroke="#000" stroke-width="1.7" fill="none"/>
<path d="M1043.8,348.6 L1043.8,1331" stroke="#000" stroke-width="1.7" fill="none"/>
<path d="M1141.2,348.6 L1141.2,1331" stroke="#000" stroke-width="1.7" fill="none"/>
<path d="M1144.2,348.6 L1144.2,1331" stroke="#000" stroke-width="1.7" fill="none"/>
<path d="M1154,348.6 L1154,1331" stroke="#000" stroke-width="1.7" fill="none"/>
<path d="M1157.2,348.6 L1157.2,1331" stroke="#000" stroke-width="1.7" fill="none"/>
<path d="M1053,348.6 L1053,1331" stroke="#000" stroke-width="1.85" fill="none"/>
<path d="M1060.1,348.6 L1060.1,1331" stroke="#000" stroke-width="1.85" fill="none"/>
<path d="M1067.2,348.6 L1067.2,1331" stroke="#000" stroke-width="1.85" fill="none"/>
<path d="M1074.3,348.6 L1074.3,1331" stroke="#000" stroke-width="1.85" fill="none"/>
<path d="M1081.4,348.6 L1081.4,1331" stroke="#000" stroke-width="1.85" fill="none"/>
<path d="M1088.5,348.6 L1088.5,1331" stroke="#000" stroke-width="1.85" fill="none"/>
<path d="M1095.6,348.6 L1095.6,1331" stroke="#000" stroke-width="1.85" fill="none"/>
<path d="M1102.7,348.6 L1102.7,1331" stroke="#000" stroke-width="1.85" fill="none"/>
<path d="M1109.8,348.6 L1109.8,1331" stroke="#000" stroke-width="1.85" fill="none"/>
<path d="M1116.9,348.6 L1116.9,1331" stroke="#000" stroke-width="1.85" fill="none"/>
<path d="M1124,348.6 L1124,1331" stroke="#000" stroke-width="1.85" fill="none"/>
<path d="M1131.1,348.6 L1131.1,1331" stroke="#000" stroke-width="1.85" fill="none"/>
<g><path d="M997.9,348.6 L997.9,337.4 L1013.5,317.4 L1171,317.4 L1186.8,337.4 L1186.8,348.6" stroke="#000" stroke-width="1.7" fill="none" stroke-linejoin="round"/>
<path d="M1031.2,318.6 L1016.9,337.4" stroke="#000" stroke-width="1.85" fill="none" stroke-linejoin="round"/>
<path d="M1153.4,318.6 L1167.6,337.4" stroke="#000" stroke-width="1.85" fill="none" stroke-linejoin="round"/>
<path d="M997.9,337.4 L1053,337.4" stroke="#000" stroke-width="1.85" fill="none"/>
<path d="M1131.1,337.4 L1186.8,337.4" stroke="#000" stroke-width="1.85" fill="none"/>
<path d="M997.9,348.6 L1186.8,348.6" stroke="#000" stroke-width="1.85" fill="none"/>
<path d="M1016.9,337.4 L1016.9,348.6" stroke="#000" stroke-width="1.85" fill="none"/>
<path d="M1167.6,337.4 L1167.6,348.6" stroke="#000" stroke-width="1.85" fill="none"/>
<path d="M1005,336.7 L1010.6,328.4 Q1015.8,320.6 1020.6,320.2 Q1024.8,320.6 1023.6,324.8 Q1022.4,328.2 1017.2,336.7" fill="#fff" stroke="#000" stroke-width="1.8" stroke-linejoin="round"/>
<path d="M1008.4,330.7 H1018.2 M1006.8,334.0 H1016.4" stroke="#000" stroke-width="1.5" fill="none"/>
<circle cx="1004.2" cy="327.4" r="2.3" fill="#111"/>
<path d="M1001.4,333.2 L1006.6,326.4" stroke="#000" stroke-width="2.6" fill="none"/>
<path d="M1179.6,336.7 L1174,328.4 Q1168.8,320.6 1164,320.2 Q1159.8,320.6 1161,324.8 Q1162.2,328.2 1167.4,336.7" fill="#fff" stroke="#000" stroke-width="1.8" stroke-linejoin="round"/>
<path d="M1176.2,330.7 H1166.4 M1177.8,334.0 H1168.2" stroke="#000" stroke-width="1.5" fill="none"/>
<circle cx="1180.4" cy="327.4" r="2.3" fill="#111"/>
<path d="M1183.2,333.2 L1178,326.4" stroke="#000" stroke-width="2.6" fill="none"/>
<path d="M1053,317.4 L1053,348.6" stroke="#000" stroke-width="1.85" fill="none"/>
<path d="M1060.1,317.4 L1060.1,348.6" stroke="#000" stroke-width="1.85" fill="none"/>
<path d="M1067.2,317.4 L1067.2,348.6" stroke="#000" stroke-width="1.85" fill="none"/>
<path d="M1074.3,317.4 L1074.3,348.6" stroke="#000" stroke-width="1.85" fill="none"/>
<path d="M1081.4,317.4 L1081.4,348.6" stroke="#000" stroke-width="1.85" fill="none"/>
<path d="M1088.5,317.4 L1088.5,348.6" stroke="#000" stroke-width="1.85" fill="none"/>
<path d="M1095.6,317.4 L1095.6,348.6" stroke="#000" stroke-width="1.85" fill="none"/>
<path d="M1102.7,317.4 L1102.7,348.6" stroke="#000" stroke-width="1.85" fill="none"/>
<path d="M1109.8,317.4 L1109.8,348.6" stroke="#000" stroke-width="1.85" fill="none"/>
<path d="M1116.9,317.4 L1116.9,348.6" stroke="#000" stroke-width="1.85" fill="none"/>
<path d="M1124,317.4 L1124,348.6" stroke="#000" stroke-width="1.85" fill="none"/>
<path d="M1131.1,317.4 L1131.1,348.6" stroke="#000" stroke-width="1.85" fill="none"/>
<rect x="1057.2" y="318.2" width="2.0" height="12.6" fill="#666"/>
<path d="M1056.9,317.4 L1056.9,331.4" stroke="#000" stroke-width="0.9" fill="none"/>
<path d="M1053,331.4 L1060.1,331.4" stroke="#000" stroke-width="1.85" fill="none"/>
<rect x="1071.4" y="318.2" width="2.0" height="12.6" fill="#666"/>
<path d="M1071.1,317.4 L1071.1,331.4" stroke="#000" stroke-width="0.9" fill="none"/>
<path d="M1067.2,331.4 L1074.3,331.4" stroke="#000" stroke-width="1.85" fill="none"/>
<rect x="1085.6" y="318.2" width="2.0" height="12.6" fill="#666"/>
<path d="M1085.3,317.4 L1085.3,331.4" stroke="#000" stroke-width="0.9" fill="none"/>
<path d="M1081.4,331.4 L1088.5,331.4" stroke="#000" stroke-width="1.85" fill="none"/>
<rect x="1096.5" y="318.2" width="2.0" height="12.6" fill="#666"/>
<path d="M1098.8,317.4 L1098.8,331.4" stroke="#000" stroke-width="0.9" fill="none"/>
<path d="M1095.6,331.4 L1102.7,331.4" stroke="#000" stroke-width="1.85" fill="none"/>
<rect x="1110.7" y="318.2" width="2.0" height="12.6" fill="#666"/>
<path d="M1113,317.4 L1113,331.4" stroke="#000" stroke-width="0.9" fill="none"/>
<path d="M1109.8,331.4 L1116.9,331.4" stroke="#000" stroke-width="1.85" fill="none"/>
<rect x="1124.9" y="318.2" width="2.0" height="12.6" fill="#666"/>
<path d="M1127.2,317.4 L1127.2,331.4" stroke="#000" stroke-width="0.9" fill="none"/>
<path d="M1124,331.4 L1131.1,331.4" stroke="#000" stroke-width="1.85" fill="none"/>
<path d="M1060.1,337.4 L1067.2,337.4" stroke="#000" stroke-width="1.85" fill="none"/>
<path d="M1074.3,337.4 L1081.4,337.4" stroke="#000" stroke-width="1.85" fill="none"/>
<path d="M1088.5,337.4 L1095.6,337.4" stroke="#000" stroke-width="1.85" fill="none"/>
<path d="M1102.7,337.4 L1109.8,337.4" stroke="#000" stroke-width="1.85" fill="none"/>
<path d="M1116.9,337.4 L1124,337.4" stroke="#000" stroke-width="1.85" fill="none"/></g>
<g transform="translate(0,1679.4) scale(1,-1)"><path d="M997.9,348.6 L997.9,337.4 L1013.5,317.4 L1171,317.4 L1186.8,337.4 L1186.8,348.6" stroke="#000" stroke-width="1.7" fill="none" stroke-linejoin="round"/>
<path d="M1031.2,318.6 L1016.9,337.4" stroke="#000" stroke-width="1.85" fill="none" stroke-linejoin="round"/>
<path d="M1153.4,318.6 L1167.6,337.4" stroke="#000" stroke-width="1.85" fill="none" stroke-linejoin="round"/>
<path d="M997.9,337.4 L1053,337.4" stroke="#000" stroke-width="1.85" fill="none"/>
<path d="M1131.1,337.4 L1186.8,337.4" stroke="#000" stroke-width="1.85" fill="none"/>
<path d="M997.9,348.6 L1186.8,348.6" stroke="#000" stroke-width="1.85" fill="none"/>
<path d="M1016.9,337.4 L1016.9,348.6" stroke="#000" stroke-width="1.85" fill="none"/>
<path d="M1167.6,337.4 L1167.6,348.6" stroke="#000" stroke-width="1.85" fill="none"/>
<path d="M1005,336.7 L1010.6,328.4 Q1015.8,320.6 1020.6,320.2 Q1024.8,320.6 1023.6,324.8 Q1022.4,328.2 1017.2,336.7" fill="#fff" stroke="#000" stroke-width="1.8" stroke-linejoin="round"/>
<path d="M1008.4,330.7 H1018.2 M1006.8,334.0 H1016.4" stroke="#000" stroke-width="1.5" fill="none"/>
<circle cx="1004.2" cy="327.4" r="2.3" fill="#111"/>
<path d="M1001.4,333.2 L1006.6,326.4" stroke="#000" stroke-width="2.6" fill="none"/>
<path d="M1179.6,336.7 L1174,328.4 Q1168.8,320.6 1164,320.2 Q1159.8,320.6 1161,324.8 Q1162.2,328.2 1167.4,336.7" fill="#fff" stroke="#000" stroke-width="1.8" stroke-linejoin="round"/>
<path d="M1176.2,330.7 H1166.4 M1177.8,334.0 H1168.2" stroke="#000" stroke-width="1.5" fill="none"/>
<circle cx="1180.4" cy="327.4" r="2.3" fill="#111"/>
<path d="M1183.2,333.2 L1178,326.4" stroke="#000" stroke-width="2.6" fill="none"/>
<path d="M1053,317.4 L1053,348.6" stroke="#000" stroke-width="1.85" fill="none"/>
<path d="M1060.1,317.4 L1060.1,348.6" stroke="#000" stroke-width="1.85" fill="none"/>
<path d="M1067.2,317.4 L1067.2,348.6" stroke="#000" stroke-width="1.85" fill="none"/>
<path d="M1074.3,317.4 L1074.3,348.6" stroke="#000" stroke-width="1.85" fill="none"/>
<path d="M1081.4,317.4 L1081.4,348.6" stroke="#000" stroke-width="1.85" fill="none"/>
<path d="M1088.5,317.4 L1088.5,348.6" stroke="#000" stroke-width="1.85" fill="none"/>
<path d="M1095.6,317.4 L1095.6,348.6" stroke="#000" stroke-width="1.85" fill="none"/>
<path d="M1102.7,317.4 L1102.7,348.6" stroke="#000" stroke-width="1.85" fill="none"/>
<path d="M1109.8,317.4 L1109.8,348.6" stroke="#000" stroke-width="1.85" fill="none"/>
<path d="M1116.9,317.4 L1116.9,348.6" stroke="#000" stroke-width="1.85" fill="none"/>
<path d="M1124,317.4 L1124,348.6" stroke="#000" stroke-width="1.85" fill="none"/>
<path d="M1131.1,317.4 L1131.1,348.6" stroke="#000" stroke-width="1.85" fill="none"/>
<rect x="1057.2" y="318.2" width="2.0" height="12.6" fill="#666"/>
<path d="M1056.9,317.4 L1056.9,331.4" stroke="#000" stroke-width="0.9" fill="none"/>
<path d="M1053,331.4 L1060.1,331.4" stroke="#000" stroke-width="1.85" fill="none"/>
<rect x="1071.4" y="318.2" width="2.0" height="12.6" fill="#666"/>
<path d="M1071.1,317.4 L1071.1,331.4" stroke="#000" stroke-width="0.9" fill="none"/>
<path d="M1067.2,331.4 L1074.3,331.4" stroke="#000" stroke-width="1.85" fill="none"/>
<rect x="1085.6" y="318.2" width="2.0" height="12.6" fill="#666"/>
<path d="M1085.3,317.4 L1085.3,331.4" stroke="#000" stroke-width="0.9" fill="none"/>
<path d="M1081.4,331.4 L1088.5,331.4" stroke="#000" stroke-width="1.85" fill="none"/>
<rect x="1096.5" y="318.2" width="2.0" height="12.6" fill="#666"/>
<path d="M1098.8,317.4 L1098.8,331.4" stroke="#000" stroke-width="0.9" fill="none"/>
<path d="M1095.6,331.4 L1102.7,331.4" stroke="#000" stroke-width="1.85" fill="none"/>
<rect x="1110.7" y="318.2" width="2.0" height="12.6" fill="#666"/>
<path d="M1113,317.4 L1113,331.4" stroke="#000" stroke-width="0.9" fill="none"/>
<path d="M1109.8,331.4 L1116.9,331.4" stroke="#000" stroke-width="1.85" fill="none"/>
<rect x="1124.9" y="318.2" width="2.0" height="12.6" fill="#666"/>
<path d="M1127.2,317.4 L1127.2,331.4" stroke="#000" stroke-width="0.9" fill="none"/>
<path d="M1124,331.4 L1131.1,331.4" stroke="#000" stroke-width="1.85" fill="none"/>
<path d="M1060.1,337.4 L1067.2,337.4" stroke="#000" stroke-width="1.85" fill="none"/>
<path d="M1074.3,337.4 L1081.4,337.4" stroke="#000" stroke-width="1.85" fill="none"/>
<path d="M1088.5,337.4 L1095.6,337.4" stroke="#000" stroke-width="1.85" fill="none"/>
<path d="M1102.7,337.4 L1109.8,337.4" stroke="#000" stroke-width="1.85" fill="none"/>
<path d="M1116.9,337.4 L1124,337.4" stroke="#000" stroke-width="1.85" fill="none"/></g>
<path d="M1035.5,384 L1043.7,389.2 L1043.7,413.2 L1035.5,418.4 L1027.3,413.2 L1027.3,389.2 Z" fill="#fff" stroke="#000" stroke-width="1.9" stroke-linejoin="round"/>
<path d="M1027.9,391.4 Q1035.5,387.8 1043.1,391.4 M1027.9,411 Q1035.5,414.6 1043.1,411" fill="none" stroke="#000" stroke-width="1.5"/>
<rect x="1029.4" y="393.2" width="12.2" height="16" rx="6.1" ry="6.1" fill="#fff" stroke="#000" stroke-width="2.8"/>
<path d="M1035.5,1261.4 L1043.7,1266.6 L1043.7,1290.6 L1035.5,1295.8 L1027.3,1290.6 L1027.3,1266.6 Z" fill="#fff" stroke="#000" stroke-width="1.9" stroke-linejoin="round"/>
<path d="M1027.9,1268.8 Q1035.5,1265.2 1043.1,1268.8 M1027.9,1288.4 Q1035.5,1292 1043.1,1288.4" fill="none" stroke="#000" stroke-width="1.5"/>
<rect x="1029.4" y="1270.6" width="12.2" height="16" rx="6.1" ry="6.1" fill="#fff" stroke="#000" stroke-width="2.8"/>
<path d="M1149.2,384 L1157.4,389.2 L1157.4,413.2 L1149.2,418.4 L1141,413.2 L1141,389.2 Z" fill="#fff" stroke="#000" stroke-width="1.9" stroke-linejoin="round"/>
<path d="M1141.6,391.4 Q1149.2,387.8 1156.8,391.4 M1141.6,411 Q1149.2,414.6 1156.8,411" fill="none" stroke="#000" stroke-width="1.5"/>
<rect x="1143.1" y="393.2" width="12.2" height="16" rx="6.1" ry="6.1" fill="#fff" stroke="#000" stroke-width="2.8"/>
<path d="M1149.2,1261.4 L1157.4,1266.6 L1157.4,1290.6 L1149.2,1295.8 L1141,1290.6 L1141,1266.6 Z" fill="#fff" stroke="#000" stroke-width="1.9" stroke-linejoin="round"/>
<path d="M1141.6,1268.8 Q1149.2,1265.2 1156.8,1268.8 M1141.6,1288.4 Q1149.2,1292 1156.8,1288.4" fill="none" stroke="#000" stroke-width="1.5"/>
<rect x="1143.1" y="1270.6" width="12.2" height="16" rx="6.1" ry="6.1" fill="#fff" stroke="#000" stroke-width="2.8"/>
<path d="M996.3,880 L997.9,880 L1003.5,894.7 L1024,918.1 L1043.8,915.2 L1059.9,900.5 L1075.3,872.7 L1116.4,809.6 L1135.5,792 L1160.4,787.9 L1182.4,825 L1186.8,852.1 L1188.4,852.1 L1188.4,877 L1186.8,877 L1182.4,849.9 L1160.4,812.8 L1135.5,816.9 L1116.4,834.5 L1075.3,897.6 L1059.9,925.4 L1043.8,940.1 L1024,943 L1003.5,919.6 L997.9,904.9 L996.3,904.9 Z" fill="#fff" stroke="none"/>
<path d="M997.9,880 L1003.5,894.7 L1024,918.1 L1043.8,915.2 L1059.9,900.5 L1075.3,872.7 L1116.4,809.6 L1135.5,792 L1160.4,787.9 L1182.4,825 L1186.8,852.1" fill="none" stroke="#000" stroke-width="1.85" stroke-linejoin="round"/>
<path d="M997.9,904.9 L1003.5,919.6 L1024,943 L1043.8,940.1 L1059.9,925.4 L1075.3,897.6 L1116.4,834.5 L1135.5,816.9 L1160.4,812.8 L1182.4,849.9 L1186.8,877" fill="none" stroke="#000" stroke-width="1.85" stroke-linejoin="round"/>
<path d="M1081.2,348.6 V366 Q1081.2,346.8 1092.4,346.8 Q1103.6,346.8 1103.6,366 V348.6 Z" fill="#fff"/>
<rect x="1080.0" y="349.6" width="24.8" height="160" fill="#fff"/>
<path d="M1077.6,349.4 L1082.0,349.4 L1082.0,367.5 Q1078.4,362 1077.6,349.4 Z" fill="#1a1a1a"/>
<path d="M1107.2,349.4 L1102.8,349.4 L1102.8,367.5 Q1106.4,362 1107.2,349.4 Z" fill="#1a1a1a"/>
<path d="M1081.0,437.6 V366 Q1081.0,346.6 1092.4,346.6 Q1103.8,346.6 1103.8,366 V437.6" fill="#fff" stroke="#000" stroke-width="1.7"/>
<path d="M1080.0,436.8 Q1092.4,442.4 1104.8,436.8 L1104.4,441.8 Q1092.4,446.6 1080.4,441.8 Z" fill="#111" stroke="#111" stroke-width="1.4" stroke-linejoin="round"/>
<path d="M1081.2,442 V509 M1103.6,442 V509" stroke="#000" stroke-width="1.7" fill="none"/>
<path d="M1075.8,509.0 H1109.4 V550.6 H1075.8 Z" fill="#fff" stroke="#000" stroke-width="2.2"/>
<path d="M1075.0,509.2 H1110.2 M1075.0,550.8 H1110.2" stroke="#000" stroke-width="3.0" fill="none"/>
<path d="M1075.8,514.6 H1083.4 V518.8 H1075.8 M1109.4,514.6 H1101.8 V518.8 H1109.4 M1075.8,537.6 H1083.4 V541.8 H1075.8 M1109.4,537.6 H1101.8 V541.8 H1109.4" stroke="#000" stroke-width="1.6" fill="none"/>
<rect x="1078.2" y="524.6" width="28.6" height="4.6" fill="none" stroke="#000" stroke-width="1.6"/>
<path d="M1075.8,550.8 L1067.2,596.4 V697.0 H1117.4 V596.4 L1109.4,550.8 Z" fill="#fff" stroke="#000" stroke-width="2.4" stroke-linejoin="round"/>
<path d="M1067.2,642.2 H1075.2 Q1077.2,642.2 1077.2,640.2 V612.6 Q1077.2,610.2 1079.6,610.2 H1105.4 Q1107.8,610.2 1107.8,612.6 V640.2 Q1107.8,642.2 1109.8,642.2 H1117.4" fill="none" stroke="#000" stroke-width="2.6"/>
<path d="M1068.6,643.6 H1072.6 V652.2 H1068.6 Z M1116.0,643.6 H1112.0 V652.2 H1116.0 Z" fill="none" stroke="#000" stroke-width="1.3"/>
<path d="M1067.2,653.6 H1082.6 M1101.8,653.6 H1117.4" stroke="#000" stroke-width="2.2" fill="none"/>
<path d="M1069.8,655 V696 M1114.8,655 V696" stroke="#000" stroke-width="1.0" fill="none"/>
<rect x="1082.6" y="616.4" width="19.4" height="65.0" rx="1.4" fill="#fff" stroke="#000" stroke-width="2.8"/>
<path d="M1082.6,617.0 H1102.0" stroke="#000" stroke-width="3.6" fill="none"/>
<rect x="1086.3" y="621.4" width="12.6" height="57.2" fill="#bbb" stroke="none"/>
<path d="M1088.3,621 V679 M1097.0,621 V679" stroke="#000" stroke-width="4.0" fill="none"/>
<path d="M1092.6,622 V678" stroke="#fff" stroke-width="2.0" fill="none"/>
<path d="M1092.6,622 V678" stroke="#888" stroke-width="0.8" fill="none"/>
<path d="M1083.0,688.6 H1101.6 M1083.0,692.6 H1101.6 M1083.0,682 V697 M1101.6,682 V697" stroke="#000" stroke-width="1.5" fill="none"/>
</g>
<g id="dims">
<path d="M144,347.5 L193,347.5" stroke="#969696" stroke-width="1.0" fill="none"/>
<path d="M145,1330.5 L193,1330.5" stroke="#969696" stroke-width="1.0" fill="none"/>
<path d="M145,1361.5 L202,1361.5" stroke="#969696" stroke-width="1.0" fill="none"/>
<path d="M156.5,347.7 L156.5,1330.1" stroke="#969696" stroke-width="1.0" fill="none"/>
<path d="M156.5,347.7 L159.1,363.7 L153.9,363.7 Z" fill="#858585"/>
<path d="M156.5,1330.1 L153.9,1314.1 L159.1,1314.1 Z" fill="#858585"/>
<path d="M156.5,1361.3 L156.5,1392.7" stroke="#969696" stroke-width="1.0" fill="none"/>
<path d="M156.5,1361.3 L159.1,1377.3 L153.9,1377.3 Z" fill="#858585"/>
<path d="M205.5,1331 L205.5,1439" stroke="#969696" stroke-width="1.0" fill="none"/>
<path d="M354.5,1331 L354.5,1439" stroke="#969696" stroke-width="1.0" fill="none"/>
<path d="M205.9,1430.5 L354.7,1430.5" stroke="#969696" stroke-width="1.0" fill="none"/>
<path d="M205.9,1430.5 L221.9,1427.9 L221.9,1433.1 Z" fill="#858585"/>
<path d="M354.7,1430.5 L338.7,1433.1 L338.7,1427.9 Z" fill="#858585"/>
<path d="M474,316.5 L700,316.5" stroke="#969696" stroke-width="1.0" fill="none"/>
<path d="M473.5,1360.5 L682,1360.5" stroke="#969696" stroke-width="1.0" fill="none"/>
<path d="M504.5,316.3 L504.5,1360.8" stroke="#969696" stroke-width="1.0" fill="none"/>
<path d="M504.5,316.3 L507.1,332.3 L501.9,332.3 Z" fill="#858585"/>
<path d="M504.5,1361 L501.9,1345 L507.1,1345 Z" fill="#858585"/>
<path d="M576.8,345.5 L657,345.5" stroke="#969696" stroke-width="1.0" fill="none"/>
<path d="M576.8,507.5 L616.8,507.5" stroke="#969696" stroke-width="1.0" fill="none"/>
<path d="M588.5,345.6 L588.5,507.5" stroke="#969696" stroke-width="1.0" fill="none"/>
<path d="M588.5,345.6 L591.1,361.6 L585.9,361.6 Z" fill="#858585"/>
<path d="M588.5,507.5 L585.9,491.5 L591.1,491.5 Z" fill="#858585"/>
<path d="M666.5,1342 L666.5,1434.7" stroke="#969696" stroke-width="1.0" fill="none"/>
<path d="M807.5,1354 L807.5,1434.7" stroke="#969696" stroke-width="1.0" fill="none"/>
<path d="M666.4,1412.5 L807.5,1412.5" stroke="#969696" stroke-width="1.0" fill="none"/>
<path d="M666.4,1412.5 L682.4,1409.9 L682.4,1415.1 Z" fill="#858585"/>
<path d="M807.5,1412.5 L791.5,1415.1 L791.5,1409.9 Z" fill="#858585"/>
<path d="M552,3.5 L684,3.5" stroke="#969696" stroke-width="1.0" fill="none"/>
<path d="M551.3,213.5 L684,213.5" stroke="#969696" stroke-width="1.0" fill="none"/>
<path d="M556.5,3.9 L556.5,213.3" stroke="#969696" stroke-width="1.0" fill="none"/>
<path d="M556.5,3.9 L559.1,19.9 L553.9,19.9 Z" fill="#858585"/>
<path d="M556.5,213.3 L553.9,197.3 L559.1,197.3 Z" fill="#858585"/>
<path d="M722.5,110.5 L722.5,281.6" stroke="#969696" stroke-width="1.0" fill="none"/>
<path d="M788.5,110.5 L788.5,281.6" stroke="#969696" stroke-width="1.0" fill="none"/>
<path d="M807.5,196 L807.5,281.6" stroke="#969696" stroke-width="1.0" fill="none"/>
<path d="M722.6,268.5 L862,268.5" stroke="#969696" stroke-width="1.0" fill="none"/>
<path d="M722.6,268.5 L738.6,265.9 L738.6,271.1 Z" fill="#858585"/>
<path d="M788.5,268.5 L772.5,271.1 L772.5,265.9 Z" fill="#858585"/>
<path d="M807.5,268.5 L823.5,265.9 L823.5,271.1 Z" fill="#858585"/>
<path d="M794.4,108.5 L867.2,108.5" stroke="#969696" stroke-width="1.0" fill="none"/>
<path d="M801,213.5 L867.2,213.5" stroke="#969696" stroke-width="1.0" fill="none"/>
<path d="M854.5,108.6 L854.5,213.3" stroke="#969696" stroke-width="1.0" fill="none"/>
<path d="M854.5,108.6 L857.1,124.6 L851.9,124.6 Z" fill="#858585"/>
<path d="M854.5,213.3 L851.9,197.3 L857.1,197.3 Z" fill="#858585"/>
<path d="M1091.2,62.5 L841.6,62.5 L787,109.6" fill="none" stroke="#969696" stroke-width="1.0" />
<path d="M785,111.3 L794.38,99.83 L797.66,103.61 Z" fill="#858585"/>
</g>
<g id="text" opacity="0.999">
<text x="37.2" y="1467" font-size="38.8" text-anchor="start" textLength="467.5" lengthAdjust="spacingAndGlyphs" >31.6(Emitting area length)</text>
<text x="144.3" y="1077.5" font-size="38.8" text-anchor="start" transform="rotate(-90 144.3 1077.5)" textLength="472" lengthAdjust="spacingAndGlyphs" >636(Emitting area length)</text>
<text x="488.6" y="870.4" font-size="37.2" text-anchor="start" transform="rotate(-90 488.6 870.4)" textLength="61.5" lengthAdjust="spacingAndGlyphs" >648</text>
<text x="574.8" y="465.6" font-size="37.0" text-anchor="start" transform="rotate(-90 574.8 465.6)" textLength="78" lengthAdjust="spacingAndGlyphs" >1000</text>
<text x="717.2" y="1404.8" font-size="36.6" text-anchor="start" textLength="39.6" lengthAdjust="spacingAndGlyphs" >30</text>
<text x="142.2" y="1345.8" font-size="36.6" text-anchor="middle" transform="rotate(-90 142.2 1345.8)" >6</text>
<text x="547.6" y="129.2" font-size="37.0" text-anchor="start" transform="rotate(-90 547.6 129.2)" textLength="39.6" lengthAdjust="spacingAndGlyphs" >40</text>
<text x="851.4" y="181.2" font-size="37.0" text-anchor="start" transform="rotate(-90 851.4 181.2)" textLength="39.6" lengthAdjust="spacingAndGlyphs" >20</text>
<text x="734.6" y="259.2" font-size="37.6" text-anchor="start" textLength="39.4" lengthAdjust="spacingAndGlyphs" >14</text>
<text x="825.9" y="259.8" font-size="37.6" text-anchor="start" textLength="19.6" lengthAdjust="spacingAndGlyphs" >4</text>
<text x="1305" y="1361" font-size="35" text-anchor="start" >Unit</text>
<rect x="1374.2" y="1350" width="4.4" height="4.2" fill="#111"/><rect x="1374.2" y="1358.6" width="4.4" height="4.2" fill="#111"/>
<text x="1403" y="1361" font-size="35" text-anchor="start" >mm</text>
<text x="860.5" y="55.9" font-size="35" text-anchor="start" >2</text>
<text x="913.8" y="55.9" font-size="35" text-anchor="start" >2</text>
<text x="956" y="55.9" font-size="35" text-anchor="start" textLength="48.5" lengthAdjust="spacingAndGlyphs" >M3</text>
<text x="1035.6" y="55.9" font-size="35" text-anchor="start" >4</text>
<path d="M891.5,36.5 L904,49.5 M904,36.5 L891.5,49.5" stroke="#111" stroke-width="2" fill="none"/>
<path d="M936.5,43 H952.5" stroke="#111" stroke-width="2.2" fill="none"/>
<path d="M1006,32.2 H1034.7" stroke="#111" stroke-width="2.8" fill="none"/>
<path d="M1020.3,32.2 V54 M1010.2,42.2 L1020.3,55.4 L1030.4,42.2" stroke="#111" stroke-width="2.6" fill="none" stroke-linejoin="miter"/>
</g>
</svg>
</body></html>
